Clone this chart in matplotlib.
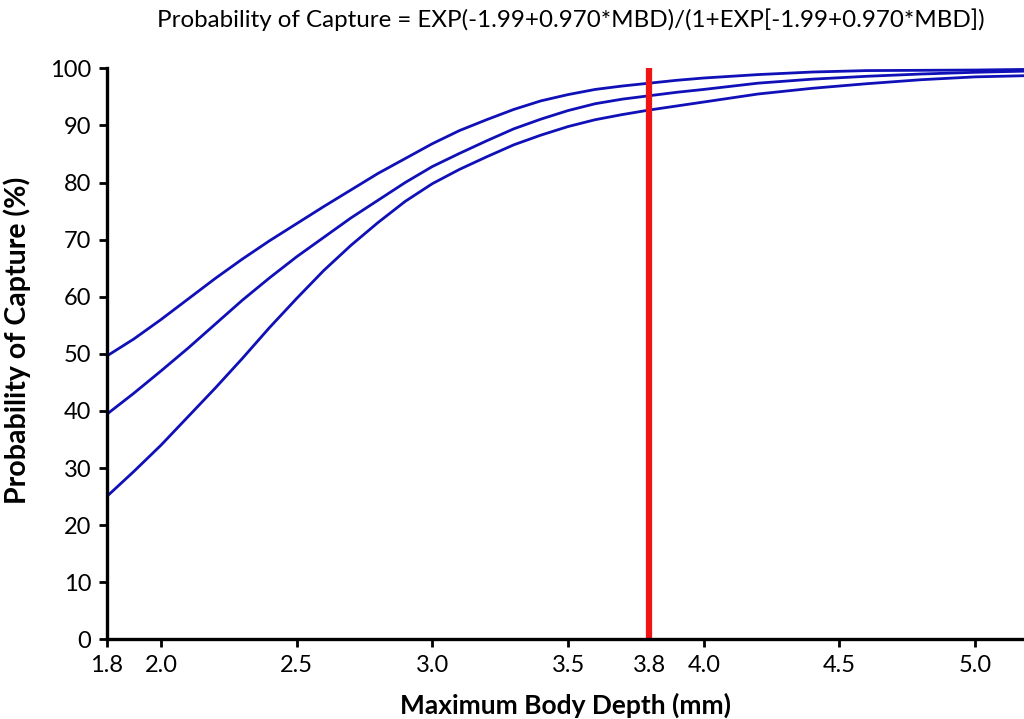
import numpy as np
import matplotlib
matplotlib.use("Agg")
import matplotlib.pyplot as plt

# --- data ---
mbd = [1.8, 1.9, 2.0, 2.1, 2.2, 2.3, 2.4, 2.5, 2.6, 2.7, 2.8, 2.9, 3.0, 3.1,
       3.2, 3.3, 3.4, 3.5, 3.6, 3.7, 3.8, 3.9, 4.0, 4.2, 4.4, 4.6, 4.8, 5.0, 5.18]

upper = [49.6, 52.6, 56.0, 59.6, 63.2, 66.6, 69.8, 72.8, 75.8, 78.7, 81.6, 84.2,
         86.8, 89.1, 91.0, 92.8, 94.3, 95.4, 96.3, 96.9, 97.4, 97.9, 98.3, 98.9,
         99.35, 99.6, 99.65, 99.7, 99.8]

middle = [39.4, 43.1, 47.0, 51.0, 55.2, 59.4, 63.3, 67.0, 70.4, 73.8, 76.9, 80.0,
          82.8, 85.1, 87.3, 89.4, 91.1, 92.6, 93.8, 94.6, 95.2, 95.8, 96.3, 97.4,
          98.1, 98.6, 99.0, 99.3, 99.5]

lower = [25.0, 29.4, 34.0, 39.0, 44.0, 49.2, 54.6, 59.7, 64.6, 69.0, 73.0, 76.7,
         79.8, 82.3, 84.5, 86.6, 88.3, 89.8, 91.0, 91.9, 92.7, 93.4, 94.1, 95.5,
         96.5, 97.3, 98.0, 98.5, 98.7]

cutoff = 3.8
x_ticks = [1.8, 2.0, 2.5, 3.0, 3.5, 3.8, 4.0, 4.5, 5.0]
y_ticks = [0, 10, 20, 30, 40, 50, 60, 70, 80, 90, 100]

TITLE = "Probability of Capture = EXP(-1.99+0.970*MBD)/(1+EXP[-1.99+0.970*MBD])"

plt.rcParams['font.family'] = ['Lato', 'DejaVu Sans']

fig = plt.figure(figsize=(10.24, 7.19), dpi=100)
ax = fig.add_axes([0.1042, 0.1108, 0.8958, 0.7942])

blue = '#1010b8'
for series in (upper, middle, lower):
    ax.plot(mbd, series, color=blue, linewidth=2.0, solid_joinstyle='round')

ax.axvline(cutoff, ymin=0, ymax=1, color='#f01414', linewidth=4.5)

ax.set_xlim(1.8, 5.18)
ax.set_ylim(0, 100)
ax.set_xticks(x_ticks)
ax.set_xticklabels([f"{v:.1f}" for v in x_ticks])
ax.set_yticks(y_ticks)

for side in ('top', 'right'):
    ax.spines[side].set_visible(False)
for side in ('left', 'bottom'):
    ax.spines[side].set_linewidth(2.4)
    ax.spines[side].set_color('black')

ax.tick_params(axis='both', direction='out', length=6, width=2, labelsize=17,
               colors='black', pad=5)
# no black tick under the red cut-off line
ax.xaxis.get_major_ticks()[x_ticks.index(cutoff)].tick1line.set_visible(False)

ax.set_xlabel("Maximum Body Depth (mm)", fontsize=19, fontweight='bold', labelpad=12)
ax.set_ylabel("Probability of Capture (%)", fontsize=20.5, fontweight='bold')
ax.yaxis.set_label_coords(-0.083, 0.524)

fig.text(0.557, 0.973, TITLE, ha='center', va='center', fontsize=17.4)

fig.savefig("out.png", dpi=100, facecolor='white')
